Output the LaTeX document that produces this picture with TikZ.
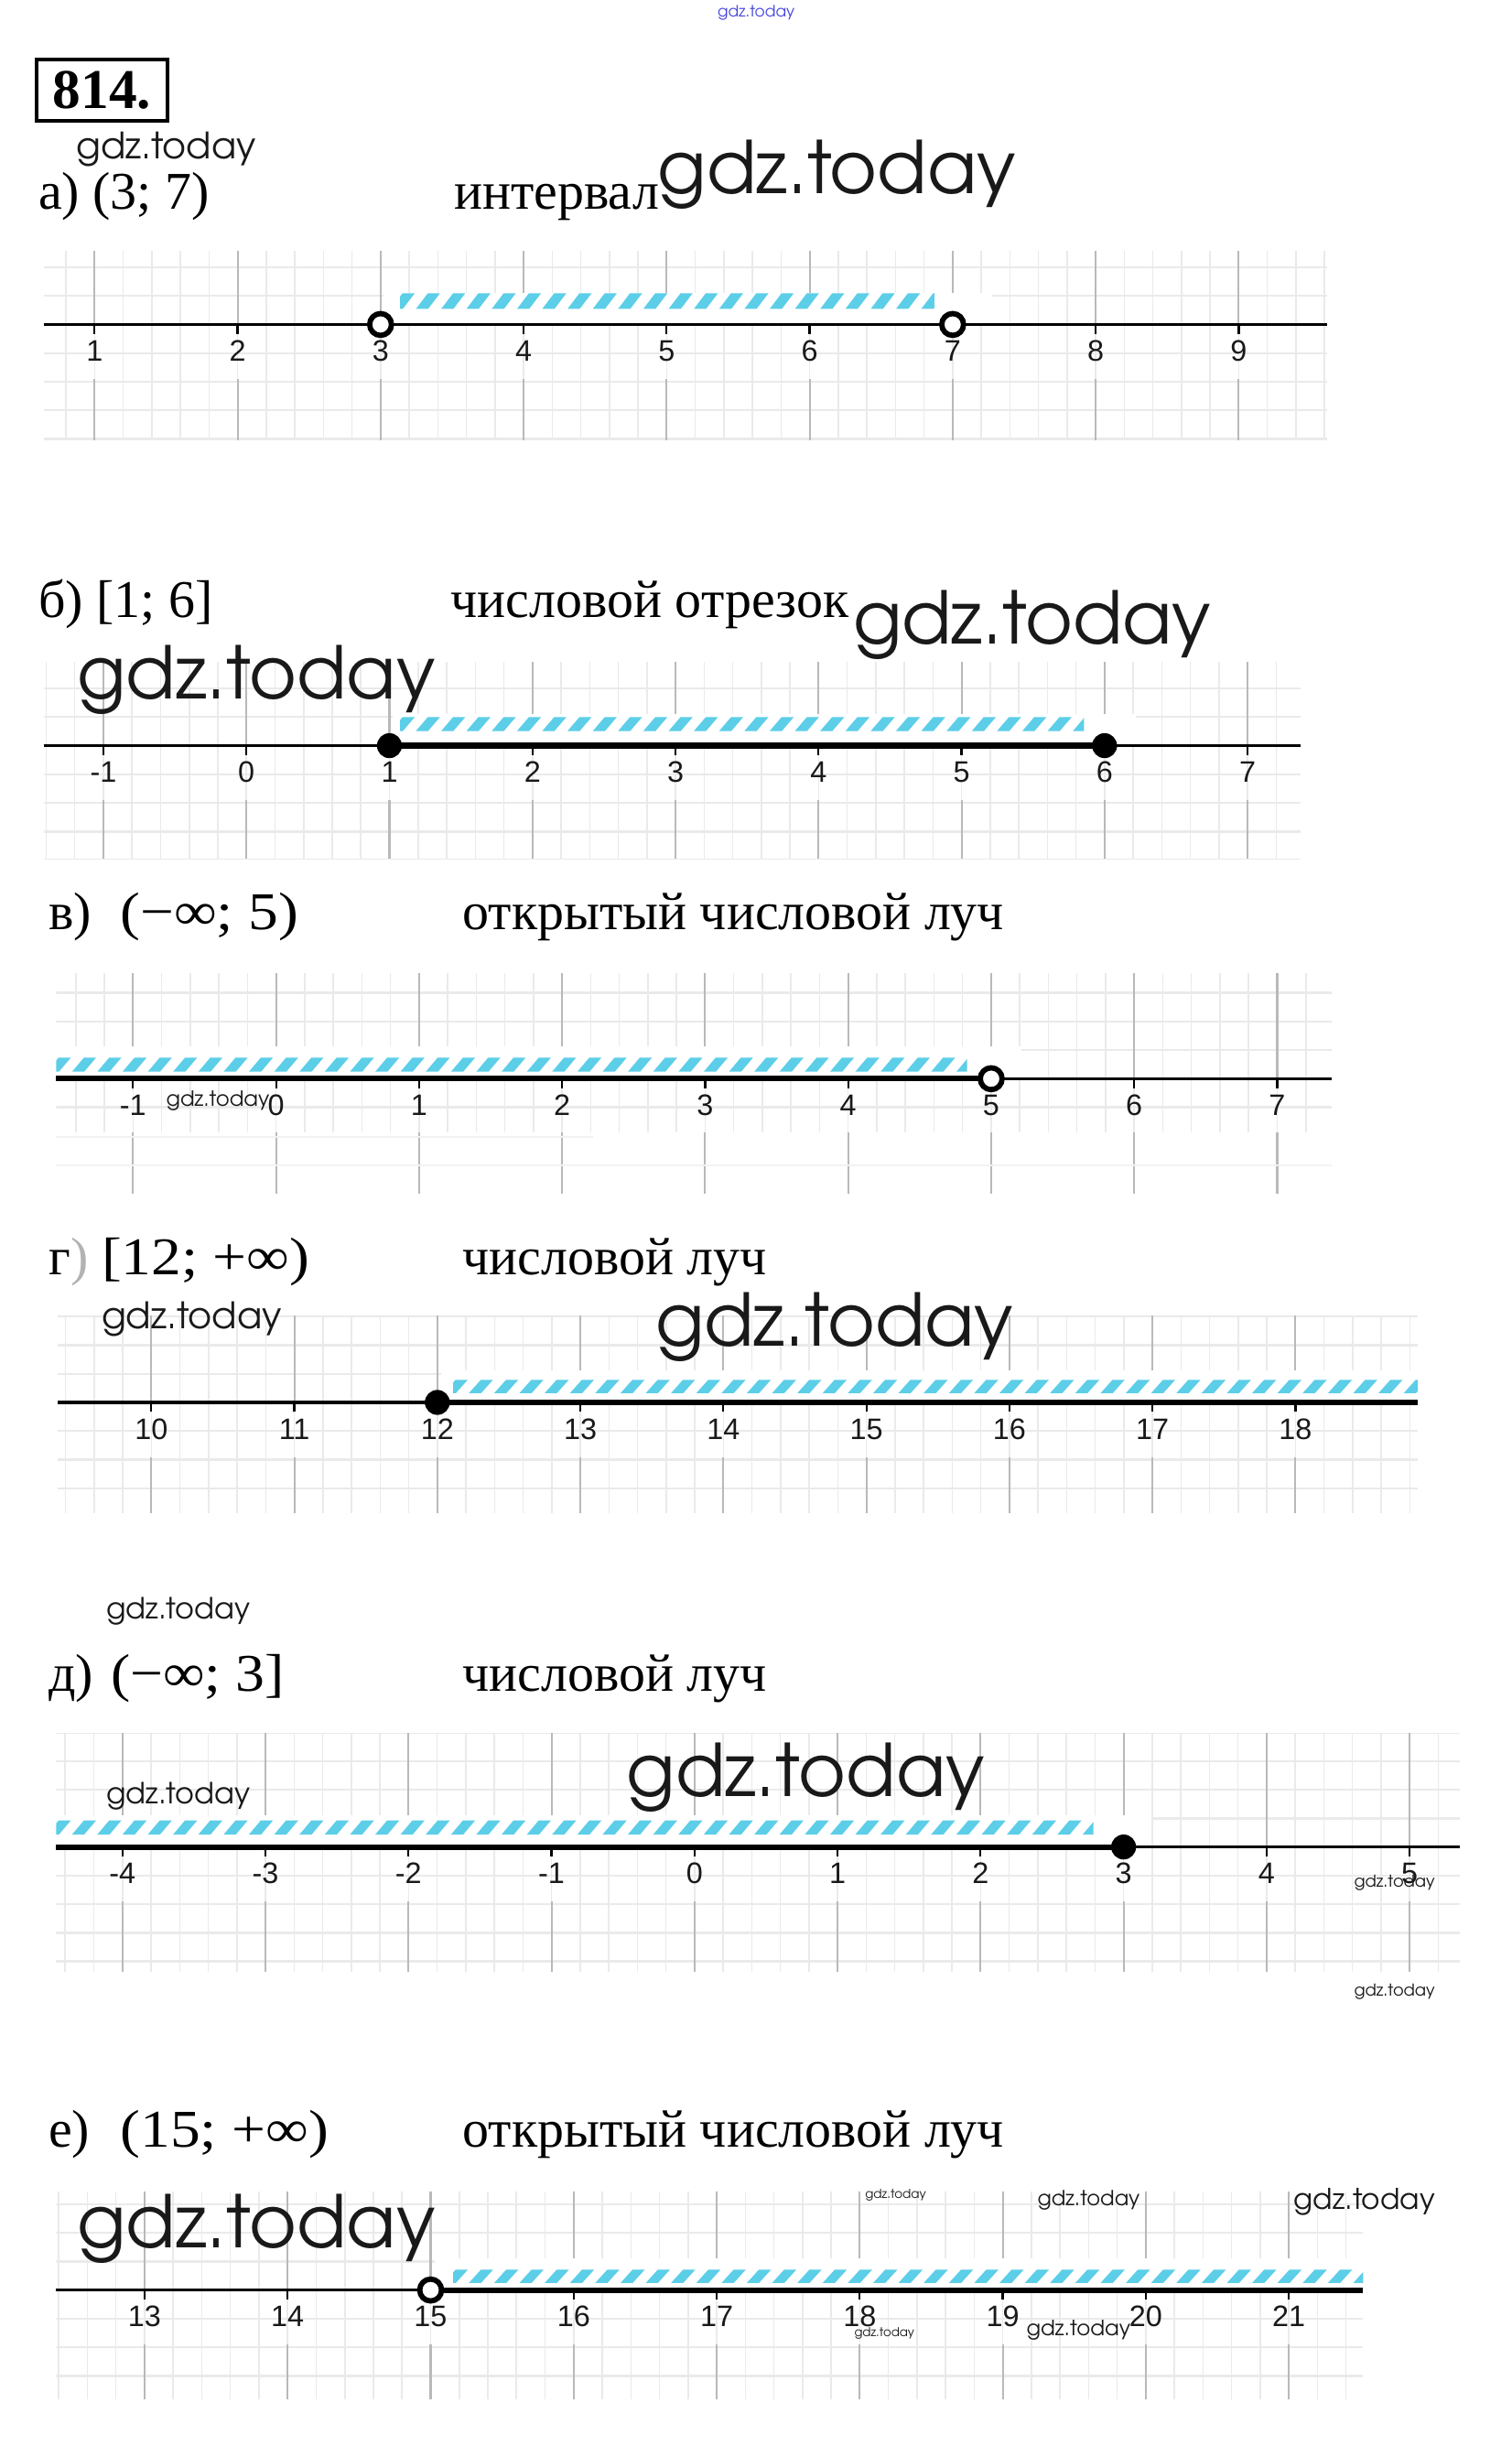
\documentclass[tikz,border=0pt]{standalone}
\usepackage{graphicx}
\usepackage{fontspec}
\setmainfont{Liberation Serif}
\newfontfamily\lsans{Liberation Sans}
\newfontfamily\gdzf{TeX Gyre Adventor}
\definecolor{hatchc}{RGB}{92,206,232}
\definecolor{minorc}{RGB}{234,234,234}
\definecolor{majorc}{RGB}{185,185,185}
\definecolor{wmc}{RGB}{25,25,25}
\definecolor{wmblue}{RGB}{70,70,220}
\newcommand{\wmfont}[1]{\gdzf\fontsize{#1}{#1}\selectfont}
\tikzset{
 minorline/.style={draw=minorc, line width=0.9},
 hgline/.style={draw=minorc, line width=1.4},
 majorline/.style={draw=majorc, line width=1.2},
 axthin/.style={draw=black, line width=2},
 axthick/.style={draw=black, line width=3.6},
 tickline/.style={draw=black, line width=1.3},
 opendot/.style={draw=black, fill=white, line width=3.4},
 fulldot/.style={fill=black},
 lbl/.style={font=\lsans\fontsize{19}{19}\selectfont, anchor=base, inner sep=0, text=black!90},
 ttl/.style={font=\fontsize{34}{34}\selectfont, anchor=base west, inner sep=0},
 wm/.style={anchor=base west, inner sep=0, text=wmc},
}
% grid: #1 xl, #2 xr, #3 ytop, #4 ybot, #5 axis y, #6 x of first major
\newcommand{\NLgrid}[6]{%
 \begin{scope}
 \clip (#1,#3) rectangle (#2,#4);
 \foreach \k in {-3,...,50} {\draw[minorline] ({#6+\k*18.34},#3) -- ({#6+\k*18.34},#4);}
 \foreach \k in {-5,...,6} {\draw[hgline] (#1,{#5+\k*18.34}) -- (#2,{#5+\k*18.34});}
 \foreach \k in {0,...,10} {\draw[majorline] ({#6+\k*91.7},#3) -- ({#6+\k*91.7},#5);
   \draw[majorline] ({#6+\k*91.7},{#5+35}) -- ({#6+\k*91.7},#4);}
 \end{scope}}
% ticks and labels: #1 x0, #2 axis, #3 first value, #4 last value, #5 name prefix
\newcommand{\NLlabels}[5]{%
 \foreach \v [count=\i from 0] in {#3,...,#4} {
   \draw[tickline] ({#1+\i*91.7},#2) -- ({#1+\i*91.7},{#2+6});
   \node[lbl] (#5\i) at ({#1+\i*91.7},{#2+23.5}) {\v};}}
% hatch: #1 xs, #2 xe, #3 ytop, #4 ybot
\newcommand{\NLhatch}[4]{%
 \begin{scope}
 \clip (#1,#3) rectangle (#2,#4);
 \foreach \k in {0,...,60} {\fill[hatchc] ({#1+\k*16.2-6},#4) -- ++(7.8,0) -- ++(7.6,{#3-#4}) -- ++(-7.8,0) -- cycle;}
 \end{scope}}
\begin{document}
\begin{tikzpicture}[x=1pt,y=-1pt]
\useasboundingbox (0,0) rectangle (969,1568);
\fill[white] (0,0) rectangle (969,1568);

% ---------- header ----------
\node[draw, line width=2.2, minimum width=84, minimum height=39, inner sep=0, font=\bfseries\fontsize{36}{36}\selectfont] (num) at (65.5,57.75) {814.};

% ---------- a) ----------
\node[ttl] (ta) at (24.5,134) {а) (3; 7)};
\node[ttl] (na) at (291,134) {интервал};
\NLgrid{28}{851}{161}{282}{208}{60.6}
\fill[white] (246,187.5) rectangle (636,207);
\draw[axthin] (28,208) -- (851,208);
\NLlabels{60.6}{208}{1}{9}{la}
\NLhatch{256.5}{599}{188}{198}
\draw[opendot] (244,208) circle[radius=7];
\draw[opendot] (610.8,208) circle[radius=7];

% ---------- b) ----------
\node[ttl] (tb) at (24.7,396) {б) [1; 6]};
\node[ttl] (nb) at (289,396) {числовой отрезок};
\NLgrid{28}{834}{424}{550.6}{478}{66.3}
\fill[white] (252,457.5) rectangle (728,477);
\draw[axthin] (28,478) -- (834,478);
\draw[axthick] (249.7,478) -- (708.2,478);
\NLlabels{66.3}{478}{-1}{7}{lb}
\NLhatch{256.5}{695}{459.7}{468.6}
\fill[fulldot] (249.7,478) circle[radius=8];
\fill[fulldot] (708.2,478) circle[radius=8];

% ---------- v) ----------
\node[ttl] (tv1) at (31,595.7) {в)};
\node[ttl] (tv2) at (77,595.7) {\scalebox{1.13}[1]{(−∞; 5)}};
\node[ttl] (nv) at (296.5,595.7) {открытый числовой луч};
\NLgrid{36}{854}{624}{765}{691.5}{85.3}
\fill[white] (36,726) rectangle (854,766);
\foreach \k in {0,...,8} {\draw[majorline] ({85.3+\k*91.7},726) -- ({85.3+\k*91.7},765);}
\draw[hgline, draw=minorc!60] (36,729) -- (380,729);
\draw[hgline, draw=minorc!60] (36,747) -- (854,747);
\fill[white] (36,671) rectangle (655,690.5);
\draw[axthin] (36,691.5) -- (854,691.5);
\draw[axthick] (36,691.5) -- (635.5,691.5);
\NLlabels{85.3}{691.5}{-1}{7}{lv}
\NLhatch{36}{620}{678}{687}
\draw[opendot] (635.5,691.5) circle[radius=7];

% ---------- g) ----------
\node[ttl] (tg1) at (31,817) {г};
\node[ttl, text=black!30] (tg2) at (45,817) {)};
\node[ttl] (tg3) at (65,817) {\scalebox{1.13}[1]{[12; +∞)}};
\node[ttl] (ng) at (296.5,817) {числовой луч};
\NLgrid{37}{909}{843}{970}{899}{97}
\fill[white] (283,878.5) rectangle (909,898);
\draw[axthin] (37,899) -- (909,899);
\draw[axthick] (280.4,899) -- (909,899);
\NLlabels{97}{899}{10}{18}{lg}
\NLhatch{290.5}{909}{884.5}{893}
\fill[fulldot] (280.4,899) circle[radius=8];

% ---------- d) ----------
\node[ttl] (td1) at (31,1084) {д)};
\node[ttl] (td2) at (71,1084) {\scalebox{1.1}[1]{(−∞; 3]}};
\node[ttl] (nd) at (296.5,1084) {числовой луч};
\NLgrid{36}{936}{1111}{1264}{1184}{78.5}
\fill[white] (36,1163.5) rectangle (738,1183);
\draw[axthin] (36,1184) -- (936,1184);
\draw[axthick] (36,1184) -- (720.4,1184);
\NLlabels{78.5}{1184}{-4}{5}{ld}
\NLhatch{36}{701}{1167}{1176}
\fill[fulldot] (720.4,1184) circle[radius=8];

% ---------- e) ----------
\node[ttl] (te1) at (31,1376.4) {е)};
\node[ttl] (te2) at (77,1376.4) {\scalebox{1.13}[1]{(15; +∞)}};
\node[ttl] (ne) at (296.5,1376.4) {открытый числовой луч};
\NLgrid{36}{874}{1404.6}{1538}{1468}{92.7}
\fill[white] (279,1447.5) rectangle (874,1467);
\draw[axthin] (36,1468) -- (874,1468);
\draw[axthick] (276.1,1468) -- (874,1468);
\NLlabels{92.7}{1468}{13}{21}{le}
\NLhatch{290.5}{874}{1455}{1463.4}
\draw[opendot] (276.1,1468) circle[radius=7];

% ---------- watermarks ----------
\node[wm, text=wmblue, font=\wmfont{10}] (w0) at (460,10.7) {gdz.today};
\node[wm, font=\wmfont{23.3}] (w1) at (48.9,101.7) {gdz.today};
\node[wm, font=\wmfont{46.5}] (w2) at (421.6,124) {gdz.today};
\node[wm, font=\wmfont{46.5}] (w3) at (546.8,412.8) {gdz.today};
\node[wm, font=\wmfont{46.5}] (w4) at (49.4,448) {gdz.today};
\node[wm, font=\wmfont{13.4}] (w5) at (106.4,709) {gdz.today};
\node[wm, font=\wmfont{23.4}] (w6) at (65,852) {gdz.today};
\node[wm, font=\wmfont{46.5}] (w7) at (420,862.8) {gdz.today};
\node[wm, font=\wmfont{18.7}] (w8) at (68,1038) {gdz.today};
\node[wm, font=\wmfont{18.7}] (w9) at (68,1156.3) {gdz.today};
\node[wm, font=\wmfont{46.5}] (w10) at (401.6,1151.4) {gdz.today};
\node[wm, font=\wmfont{10.5}] (w11) at (868,1210) {gdz.today};
\node[wm, font=\wmfont{10.5}] (w12) at (868,1279.6) {gdz.today};
\node[wm, font=\wmfont{46.5}] (w13) at (49.4,1441) {gdz.today};
\node[wm, font=\wmfont{7.9}] (w14) at (554.6,1409) {gdz.today};
\node[wm, font=\wmfont{13.3}] (w15) at (665,1414) {gdz.today};
\node[wm, font=\wmfont{18.3}] (w16) at (829.5,1416.5) {gdz.today};
\node[wm, font=\wmfont{7.8}] (w17) at (547.6,1498) {gdz.today};
\node[wm, font=\wmfont{13.5}] (w18) at (658,1497.5) {gdz.today};
\end{tikzpicture}
\end{document}
